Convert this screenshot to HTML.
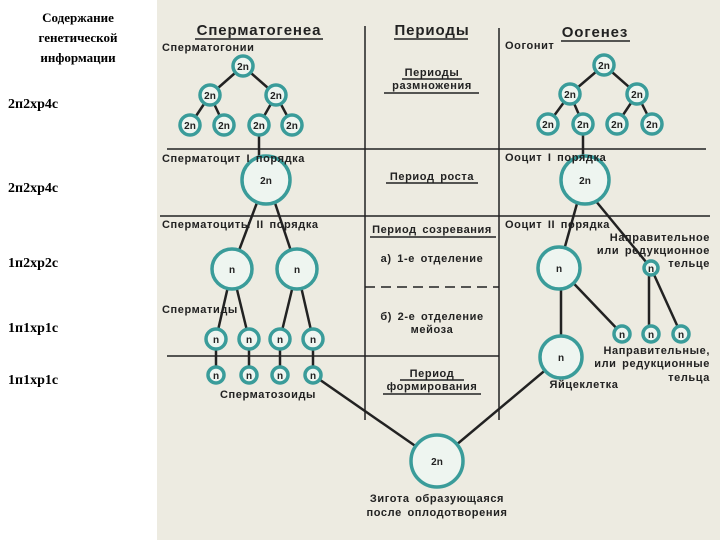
<!DOCTYPE html>
<html><head><meta charset="utf-8"><style>
body{margin:0;width:720px;height:540px;overflow:hidden;background:#fff}
svg{display:block}
.l{font-family:"Liberation Serif","DejaVu Serif",serif;font-weight:bold;font-size:14px;fill:#000}
.t{font-family:"Liberation Sans","DejaVu Sans",sans-serif;font-weight:bold;font-size:11px;letter-spacing:0.6px;word-spacing:2px;fill:#222}
.h{font-family:"Liberation Sans","DejaVu Sans",sans-serif;font-weight:bold;font-size:15px;letter-spacing:0.9px;fill:#222}
.c{fill:#eef5f0;stroke:#3a9c9a;stroke-width:3.5}
.cn{font-family:"Liberation Sans",sans-serif;font-weight:bold;font-size:10px;fill:#222;text-anchor:middle}
.k{stroke:#222;stroke-width:2.5}
.g{stroke:#222;stroke-width:1.5}
</style></head><body>
<svg width="720" height="540" viewBox="0 0 720 540">
<rect x="157" y="0" width="563" height="540" fill="#edebe1"/>
<g class="l" text-anchor="middle" style="font-size:13px">
<text x="78" y="22">Содержание</text><text x="78" y="42">генетической</text><text x="78" y="62">информации</text></g>
<g class="l"><text x="8" y="108">2п2хр4с</text><text x="8" y="192">2п2хр4с</text><text x="8" y="267">1п2хр2с</text><text x="8" y="332">1п1хр1с</text><text x="8" y="384">1п1хр1с</text></g>
<g class="h" text-anchor="middle"><text x="259" y="35">Сперматогенеа</text><text x="432" y="35">Периоды</text><text x="595" y="37">Оогенез</text></g>
<g class="g"><line x1="195" y1="39" x2="323" y2="39"/><line x1="394" y1="39" x2="468" y2="39"/><line x1="561" y1="41" x2="630" y2="41"/></g>
<g class="g" stroke="#333">
<line x1="365" y1="26" x2="365" y2="420"/><line x1="499" y1="28" x2="499" y2="420"/>
<line x1="167" y1="149" x2="706" y2="149"/><line x1="160" y1="216" x2="710" y2="216"/>
<line x1="365" y1="287" x2="499" y2="287" stroke-dasharray="10,6"/>
<line x1="167" y1="356" x2="499" y2="356"/>
</g>
<g class="t" text-anchor="middle">
<text x="432" y="76">Периоды</text><text x="432" y="89">размножения</text>
<text x="432" y="180">Период роста</text>
<text x="432" y="233">Период созревания</text>
<text x="432" y="262">а) 1-е отделение</text>
<text x="432" y="320">б) 2-е отделение</text><text x="432" y="333">мейоза</text>
<text x="432" y="377">Период</text><text x="432" y="390">формирования</text>
</g>
<g class="g"><line x1="402" y1="79" x2="462" y2="79"/><line x1="384" y1="93" x2="479" y2="93"/><line x1="386" y1="183" x2="478" y2="183"/><line x1="370" y1="237" x2="496" y2="237"/><line x1="400" y1="380" x2="464" y2="380"/><line x1="383" y1="394" x2="481" y2="394"/></g>
<g class="k">
<line x1="243" y1="66" x2="210" y2="95"/><line x1="243" y1="66" x2="276" y2="95"/>
<line x1="210" y1="95" x2="190" y2="125"/><line x1="210" y1="95" x2="224" y2="125"/>
<line x1="276" y1="95" x2="259" y2="125"/><line x1="276" y1="95" x2="292" y2="125"/>
<line x1="259" y1="125" x2="259" y2="157"/>
<line x1="258" y1="200" x2="232" y2="269"/><line x1="274" y1="200" x2="297" y2="269"/>
<line x1="232" y1="269" x2="216" y2="339"/><line x1="232" y1="269" x2="249" y2="339"/>
<line x1="297" y1="269" x2="280" y2="339"/><line x1="297" y1="269" x2="313" y2="339"/>
<line x1="216" y1="339" x2="216" y2="375"/><line x1="249" y1="339" x2="249" y2="375"/>
<line x1="280" y1="339" x2="280" y2="375"/><line x1="313" y1="339" x2="313" y2="375"/>
<line x1="313" y1="375" x2="437" y2="461"/><line x1="561" y1="357" x2="437" y2="461"/>
<line x1="604" y1="65" x2="570" y2="94"/><line x1="604" y1="65" x2="637" y2="94"/>
<line x1="570" y1="94" x2="548" y2="124"/><line x1="570" y1="94" x2="583" y2="124"/>
<line x1="637" y1="94" x2="617" y2="124"/><line x1="637" y1="94" x2="652" y2="124"/>
<line x1="583" y1="124" x2="583" y2="156"/>
<line x1="578" y1="200" x2="559" y2="268"/><line x1="595" y1="200" x2="651" y2="268"/>
<line x1="561" y1="268" x2="561" y2="357"/><line x1="559" y1="268" x2="622" y2="334"/>
<line x1="649" y1="268" x2="649" y2="334"/><line x1="651" y1="268" x2="681" y2="334"/>
</g>
<g>
<circle class="c" cx="243" cy="66" r="10"/><circle class="c" cx="210" cy="95" r="10"/><circle class="c" cx="276" cy="95" r="10"/>
<circle class="c" cx="190" cy="125" r="10"/><circle class="c" cx="224" cy="125" r="10"/><circle class="c" cx="259" cy="125" r="10"/><circle class="c" cx="292" cy="125" r="10"/>
<circle class="c" cx="266" cy="180" r="24"/>
<circle class="c" cx="232" cy="269" r="20"/><circle class="c" cx="297" cy="269" r="20"/>
<circle class="c" cx="216" cy="339" r="10"/><circle class="c" cx="249" cy="339" r="10"/><circle class="c" cx="280" cy="339" r="10"/><circle class="c" cx="313" cy="339" r="10"/>
<circle class="c" cx="216" cy="375" r="8"/><circle class="c" cx="249" cy="375" r="8"/><circle class="c" cx="280" cy="375" r="8"/><circle class="c" cx="313" cy="375" r="8"/>
<circle class="c" cx="437" cy="461" r="26"/>
<circle class="c" cx="604" cy="65" r="10"/><circle class="c" cx="570" cy="94" r="10"/><circle class="c" cx="637" cy="94" r="10"/>
<circle class="c" cx="548" cy="124" r="10"/><circle class="c" cx="583" cy="124" r="10"/><circle class="c" cx="617" cy="124" r="10"/><circle class="c" cx="652" cy="124" r="10"/>
<circle class="c" cx="585" cy="180" r="24"/>
<circle class="c" cx="559" cy="268" r="21"/><circle class="c" cx="651" cy="268" r="7"/>
<circle class="c" cx="622" cy="334" r="8"/><circle class="c" cx="651" cy="334" r="8"/><circle class="c" cx="681" cy="334" r="8"/>
<circle class="c" cx="561" cy="357" r="21"/>
</g>
<g class="cn">
<text x="243" y="70">2n</text><text x="210" y="99">2n</text><text x="276" y="99">2n</text>
<text x="190" y="129">2n</text><text x="224" y="129">2n</text><text x="259" y="129">2n</text><text x="292" y="129">2n</text>
<text x="266" y="184">2n</text><text x="232" y="273">n</text><text x="297" y="273">n</text>
<text x="216" y="343">n</text><text x="249" y="343">n</text><text x="280" y="343">n</text><text x="313" y="343">n</text>
<text x="216" y="379">n</text><text x="249" y="379">n</text><text x="280" y="379">n</text><text x="313" y="379">n</text>
<text x="437" y="465">2n</text>
<text x="604" y="69">2n</text><text x="570" y="98">2n</text><text x="637" y="98">2n</text>
<text x="548" y="128">2n</text><text x="583" y="128">2n</text><text x="617" y="128">2n</text><text x="652" y="128">2n</text>
<text x="585" y="184">2n</text><text x="559" y="272">n</text><text x="651" y="272">n</text>
<text x="622" y="338">n</text><text x="651" y="338">n</text><text x="681" y="338">n</text><text x="561" y="361">n</text>
</g>
<g class="t">
<text x="162" y="51">Сперматогонии</text><text x="162" y="162">Сперматоцит  I  порядка</text>
<text x="162" y="228">Сперматоциты  II  порядка</text><text x="162" y="313">Сперматиды</text>
<text x="268" y="398" text-anchor="middle">Сперматозоиды</text>
<text x="505" y="49">Оогонит</text><text x="505" y="161">Ооцит  I  порядка</text><text x="505" y="228">Ооцит  II  порядка</text>
<text x="710" y="241" text-anchor="end">Направительное</text><text x="710" y="254" text-anchor="end">или редукционное</text><text x="710" y="267" text-anchor="end">тельце</text>
<text x="710" y="354" text-anchor="end">Направительные,</text><text x="710" y="367" text-anchor="end">или редукционные</text><text x="710" y="381" text-anchor="end">тельца</text>
<text x="584" y="388" text-anchor="middle">Яйцеклетка</text>
<text x="437" y="502" text-anchor="middle">Зигота образующаяся</text><text x="437" y="516" text-anchor="middle">после оплодотворения</text>
</g>
</svg>
</body></html>
